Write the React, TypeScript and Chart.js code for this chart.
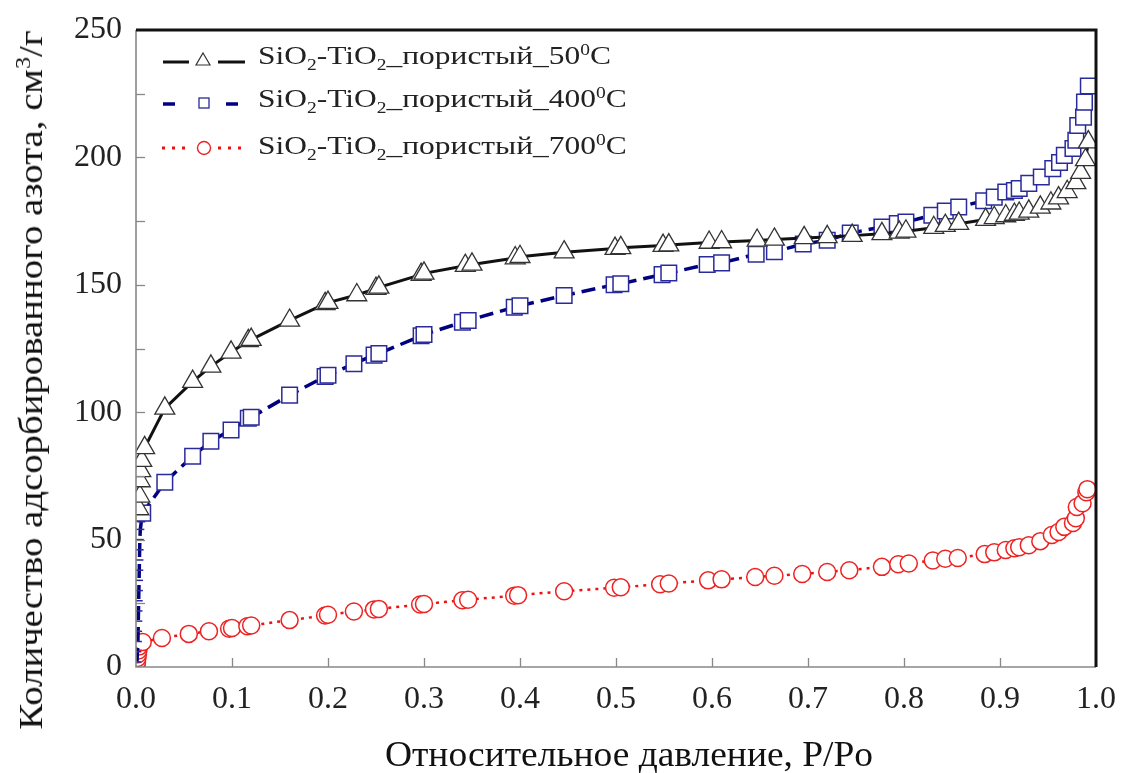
import React, { useEffect, useRef } from "react";
import { Chart, registerables } from "chart.js";

Chart.register(...registerables);

// 50°C – triangles
const x50 = [0.003, 0.004, 0.0045, 0.005, 0.006, 0.009, 0.03, 0.059, 0.078, 0.099, 0.117, 0.12, 0.16, 0.197, 0.2, 0.23, 0.25, 0.253, 0.297, 0.3, 0.343, 0.35, 0.395, 0.4, 0.446, 0.499, 0.505, 0.549, 0.555, 0.597, 0.61, 0.647, 0.665, 0.696, 0.72, 0.746, 0.777, 0.795, 0.802, 0.831, 0.843, 0.857, 0.885, 0.894, 0.906, 0.915, 0.92, 0.93, 0.942, 0.953, 0.961, 0.97, 0.979, 0.984, 0.989, 0.992];
const y50 = [62, 67, 73, 77, 81, 86, 101.5, 112, 118, 123.5, 128, 128.5, 136, 142.5, 143, 146, 148.5, 149, 154, 154.5, 157.5, 158, 160.5, 161, 162.8, 164.2, 164.5, 165.4, 165.6, 166.6, 166.8, 167.4, 167.8, 168.4, 168.8, 169.3, 170, 170.6, 171, 172.4, 173.2, 174, 175.6, 176.3, 177, 177.6, 178, 178.8, 180.4, 182, 184, 186.5, 190, 194, 199, 206];

// 400°C – squares
const x400 = [0.001, 0.0015, 0.002, 0.0022, 0.0024, 0.0026, 0.0028, 0.003, 0.0032, 0.0034, 0.0036, 0.0038, 0.004, 0.0045, 0.0055, 0.007, 0.03, 0.059, 0.078, 0.099, 0.117, 0.12, 0.16, 0.197, 0.2, 0.227, 0.248, 0.253, 0.297, 0.3, 0.34, 0.346, 0.394, 0.4, 0.446, 0.498, 0.505, 0.548, 0.555, 0.595, 0.61, 0.646, 0.665, 0.695, 0.72, 0.744, 0.777, 0.793, 0.802, 0.829, 0.843, 0.857, 0.883, 0.894, 0.906, 0.915, 0.92, 0.93, 0.943, 0.955, 0.962, 0.967, 0.976, 0.979, 0.981, 0.987, 0.988, 0.992];
const y400 = [2, 6, 10, 14, 18, 22, 26, 30, 34, 38, 42, 46, 50, 54, 57, 60.4, 72.5, 82.7, 88.6, 93, 97.6, 98, 106.7, 114, 114.5, 119, 122.4, 123, 130, 130.5, 135.3, 136, 141.2, 141.8, 145.8, 150, 150.4, 154, 154.6, 158, 158.6, 162, 163, 166, 167.5, 170.3, 172.7, 174, 174.6, 177.3, 179, 180.5, 183, 184.4, 186.4, 187, 187.8, 189.8, 192.3, 195.6, 198, 200.8, 203.5, 206.7, 212.5, 215.8, 221.7, 228];

// 700°C – circles
const x700 = [0.0005, 0.001, 0.0015, 0.002, 0.0025, 0.003, 0.007, 0.027, 0.055, 0.076, 0.097, 0.1, 0.116, 0.12, 0.16, 0.197, 0.2, 0.227, 0.248, 0.253, 0.296, 0.3, 0.34, 0.346, 0.394, 0.398, 0.446, 0.498, 0.505, 0.546, 0.555, 0.596, 0.61, 0.645, 0.665, 0.694, 0.72, 0.743, 0.777, 0.794, 0.805, 0.83, 0.843, 0.856, 0.884, 0.894, 0.906, 0.915, 0.92, 0.93, 0.942, 0.954, 0.961, 0.967, 0.976, 0.979, 0.98, 0.986, 0.99, 0.991];
const y700 = [1, 2, 3.5, 5, 6.5, 8, 9.8, 11.4, 13, 14, 15, 15.3, 16, 16.3, 18.4, 20.2, 20.5, 21.8, 22.6, 22.8, 24.5, 24.7, 26.2, 26.4, 28, 28.2, 29.7, 31.1, 31.3, 32.5, 32.8, 34, 34.4, 35.3, 35.8, 36.5, 37.3, 38, 39.3, 40.3, 40.6, 41.8, 42.5, 42.8, 44.3, 45, 45.9, 46.6, 47, 47.8, 49.4, 51.8, 53, 55, 56.5, 58.4, 62.8, 64.3, 68.6, 69.8];

const seriesNames = ["50", "400", "700"];
const xTitle = "Относительное давление, P/Po";
const yTitle = "Количество адсорбированного азота, см";
const yTitleUnitEnd = "/г";

const toPts = (xs: number[], ys: number[]) => xs.map((x, i) => ({ x, y: ys[i] }));

const SERIF = "'Liberation Serif', 'Times New Roman', serif";

const framePlugin = {
  id: "frame",
  afterDatasetsDraw(chart: any) {
    const { ctx, chartArea } = chart;
    const { left, right, top, bottom } = chartArea;
    const xs = chart.scales.x;
    const ys = chart.scales.y;
    ctx.save();
    ctx.strokeStyle = "#888";
    ctx.lineWidth = 1.3;
    for (let v = 0.1; v < 0.95; v += 0.1) {
      const px = Math.round(xs.getPixelForValue(v)) + 0.5;
      ctx.beginPath();
      ctx.moveTo(px, bottom);
      ctx.lineTo(px, bottom - 9);
      ctx.stroke();
    }
    for (let v = 25; v < 250; v += 25) {
      const py = Math.round(ys.getPixelForValue(v)) + 0.5;
      ctx.beginPath();
      ctx.moveTo(left, py);
      ctx.lineTo(left + 9, py);
      ctx.stroke();
    }
    ctx.strokeStyle = "#888";
    ctx.lineWidth = 1.6;
    ctx.beginPath();
    ctx.moveTo(left, top);
    ctx.lineTo(left, bottom);
    ctx.lineTo(right, bottom);
    ctx.stroke();
    ctx.strokeStyle = "#111";
    ctx.lineWidth = 3;
    ctx.beginPath();
    ctx.moveTo(left, top);
    ctx.lineTo(right, top);
    ctx.lineTo(right, bottom);
    ctx.stroke();
    ctx.restore();
  },
};

export default function App() {
  const ref = useRef<HTMLCanvasElement | null>(null);

  useEffect(() => {
    document.body.style.margin = "0";
    if (!ref.current) return;
    const chart = new Chart(ref.current, {
      type: "scatter",
      data: {
        datasets: [
          {
            label: seriesNames[2],
            data: toPts(x700, y700),
            showLine: true,
            borderColor: "#ee1111",
            borderWidth: 2.5,
            borderDash: [3, 5],
            pointStyle: "circle",
            pointRadius: 8.5,
            pointBorderColor: "#ee2222",
            pointBackgroundColor: "rgba(255,255,255,1)",
            pointBorderWidth: 1.5,
            order: 3,
          },
          {
            label: seriesNames[1],
            data: toPts(x400, y400),
            showLine: true,
            borderColor: "#000080",
            borderWidth: 3.5,
            borderDash: [14, 7],
            pointStyle: (c: any) => (c.raw && c.raw.x < 0.0065 ? "line" : "rect"),
            pointRadius: (c: any) => (c.raw && c.raw.x < 0.0065 ? 4 : 11),
            pointBorderColor: "#2a2a9a",
            pointBackgroundColor: "rgba(255,255,255,1)",
            pointBorderWidth: 1.5,
            order: 2,
          },
          {
            label: seriesNames[0],
            data: toPts(x50, y50),
            showLine: true,
            borderColor: "#111",
            borderWidth: 3,
            pointStyle: "triangle",
            pointRadius: 11.5,
            pointBorderColor: "#333",
            pointBackgroundColor: "rgba(255,255,255,1)",
            pointBorderWidth: 1.3,
            order: 1,
          },
        ],
      },
      options: {
        animation: false,
        responsive: true,
        maintainAspectRatio: false,
        layout: { padding: { left: 0, right: 25, top: 30, bottom: 0 } },
        plugins: { legend: { display: false }, tooltip: { enabled: false } },
        scales: {
          x: {
            type: "linear",
            min: 0,
            max: 1,
            grid: { display: false, drawTicks: false },
            border: { display: false },
            ticks: {
              stepSize: 0.1,
              padding: 13,
              color: "#222",
              font: { family: SERIF, size: 32 },
              callback: (v: any) => Number(v).toFixed(1),
            },
            afterFit: (s: any) => {
              s.height = 106;
              s.paddingLeft = 0;
              s.paddingRight = 0;
            },
          },
          y: {
            type: "linear",
            min: 0,
            max: 250,
            grid: { display: false, drawTicks: false },
            border: { display: false },
            ticks: {
              stepSize: 50,
              padding: 14,
              color: "#222",
              font: { family: SERIF, size: 32 },
            },
            afterFit: (s: any) => {
              s.width = 136;
              s.paddingTop = 0;
              s.paddingBottom = 0;
            },
          },
        },
      },
      plugins: [framePlugin],
    } as any);
    return () => chart.destroy();
  }, []);

  const rowStyle = (top: number): React.CSSProperties => ({
    position: "absolute",
    left: 258,
    top,
    fontFamily: SERIF,
    fontSize: 26,
    lineHeight: "30px",
    color: "#222",
    whiteSpace: "nowrap",
    transform: "scaleX(1.21)",
    transformOrigin: "0 0",
  });
  const sub: React.CSSProperties = { fontSize: "0.62em", position: "relative", top: "0.35em", lineHeight: 0 };
  const sup: React.CSSProperties = { fontSize: "0.62em", position: "relative", top: "-0.55em", lineHeight: 0 };

  const label = (t: string, top: number) => (
    <div style={rowStyle(top)}>
      SiO<span style={sub}>2</span>-TiO<span style={sub}>2</span>_пористый_{t}
      <span style={sup}>0</span>C
    </div>
  );

  return (
    <div style={{ position: "relative", width: 1121, height: 773, background: "#fff", overflow: "hidden" }}>
      <canvas ref={ref} style={{ position: "absolute", left: 0, top: 0, width: 1121, height: 773 }} />
      <svg width={1121} height={200} style={{ position: "absolute", left: 0, top: 0, pointerEvents: "none" }}>
        <line x1={163} y1={62} x2={189} y2={62} stroke="#111" strokeWidth={3} />
        <polygon points="203,53 210,65 196,65" fill="#fff" stroke="#333" strokeWidth={1.2} />
        <line x1={218} y1={62} x2={245} y2={62} stroke="#111" strokeWidth={3} />

        <line x1={163} y1={104} x2={175} y2={104} stroke="#000080" strokeWidth={3.5} />
        <rect x={199} y={98} width={10} height={10} fill="#fff" stroke="#2a2a9a" strokeWidth={1.3} />
        <line x1={226} y1={104} x2={238} y2={104} stroke="#000080" strokeWidth={3.5} />

        {[162, 172, 182, 218, 228, 238].map((x) => (
          <line key={x} x1={x} y1={148} x2={x + 3} y2={148} stroke="#ee1111" strokeWidth={3} />
        ))}
        <circle cx={204} cy={148} r={6.5} fill="#fff" stroke="#ee2222" strokeWidth={1.4} />
      </svg>
      {label(seriesNames[0], 41)}
      {label(seriesNames[1], 84)}
      {label(seriesNames[2], 131)}
      <div
        style={{
          position: "absolute",
          left: 629,
          top: 755,
          transform: "translate(-50%, -50%) scaleX(1.07)",
          fontFamily: SERIF,
          fontSize: 35,
          lineHeight: "40px",
          color: "#111",
          whiteSpace: "nowrap",
        }}
      >
        {xTitle}
      </div>
      <div
        style={{
          position: "absolute",
          left: 31,
          top: 380,
          transform: "translate(-50%, -50%) rotate(-90deg) scaleX(1.14)",
          fontFamily: SERIF,
          fontSize: 34,
          lineHeight: "40px",
          color: "#111",
          whiteSpace: "nowrap",
        }}
      >
        {yTitle}
        <span style={sup}>3</span>
        {yTitleUnitEnd}
      </div>
    </div>
  );
}
